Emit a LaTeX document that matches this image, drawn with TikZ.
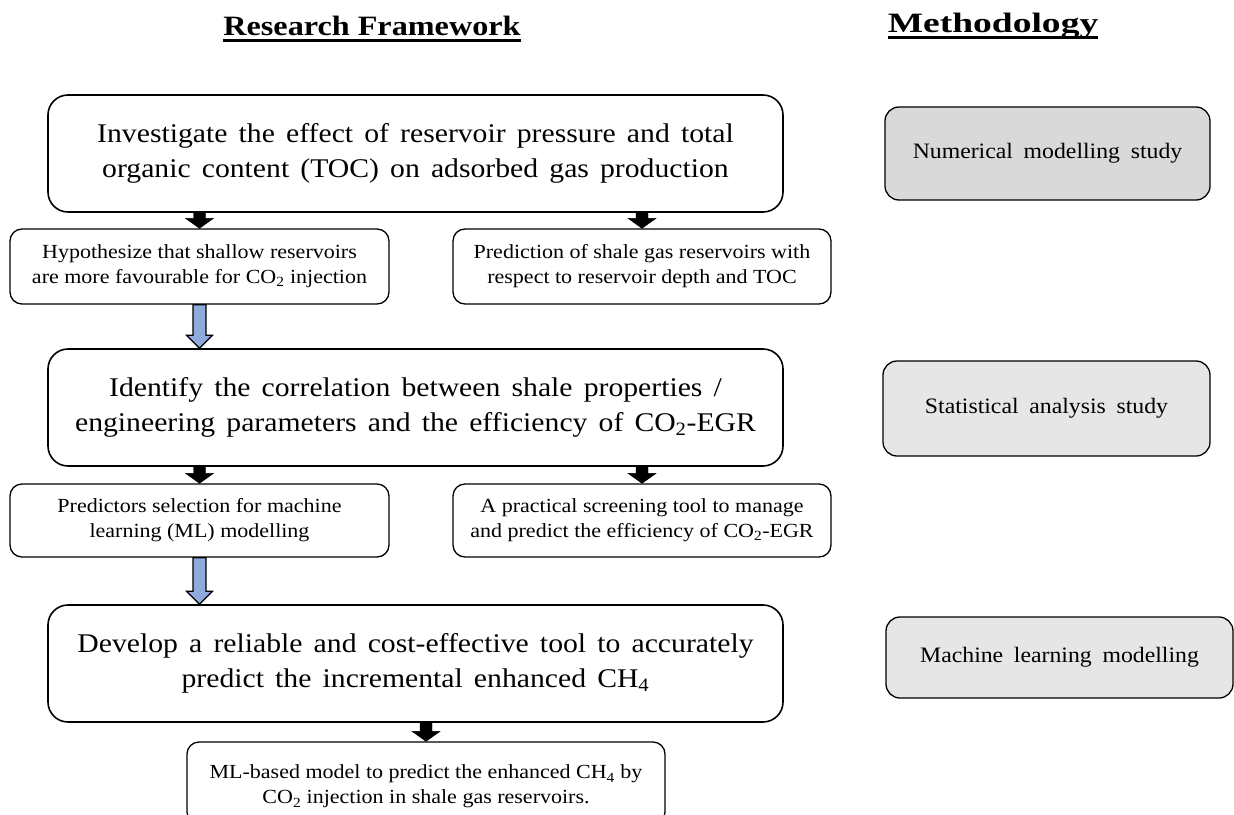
\documentclass[tikz,border=0pt]{standalone}
\usepackage{fontspec}
\setmainfont[FakeStretch=1.1]{Liberation Serif}
\newfontfamily\bigfont[FakeStretch=1.1,WordSpace=1.5]{Liberation Serif}
\newfontfamily\titlefont[FakeStretch=1.15]{Liberation Serif}
\newfontfamily\titlefontB[FakeStretch=1.34]{Liberation Serif}
\newfontfamily\methfont[FakeStretch=1.08,WordSpace=1.8]{Liberation Serif}
\usetikzlibrary{calc}
\definecolor{arrowblue}{HTML}{8FAADC}
\definecolor{greyA}{HTML}{D9D9D9}
\definecolor{greyB}{HTML}{E7E6E6}
\tikzset{
  bigbox/.style={draw, line width=1.6pt, rounded corners=20pt, minimum width=735pt, minimum height=117pt,
    align=center, font=\bigfont\fontsize{27}{35}\selectfont, inner sep=0pt},
  smallbox/.style={draw, line width=1.3pt, rounded corners=12pt, minimum width=379pt, minimum height=75pt,
    align=center, font=\fontsize{20}{25}\selectfont, inner sep=0pt},
  methbox/.style={draw, line width=1.3pt, rounded corners=14pt, align=center,
    font=\methfont\fontsize{22}{26}\selectfont, inner sep=0pt},
  heading/.style={font=\bfseries\fontsize{28}{32}\selectfont, inner sep=0pt},
  underl/.style={line width=2.6pt},
  blackarrow/.style={fill=black},
  bluearrow/.style={fill=arrowblue, draw=black, line width=1.2pt, line join=miter},
}
\newcommand{\fatarrow}[6]{%
  \draw[#1] let \p1=(#2), \p2=(#3) in
    (\x1-#4,\y1) -- (\x1-#4,\y2+#6) -- (\x1-#5,\y2+#6) -- (\x1,\y2)
    -- (\x1+#5,\y2+#6) -- (\x1+#4,\y2+#6) -- (\x1+#4,\y1) -- cycle;}
\begin{document}
\begin{tikzpicture}[x=1pt,y=-1pt]
\useasboundingbox (0,0) rectangle (1234,814);
% headings
\node[heading] (t1) at (372,26) {\titlefont\bfseries Research Framework};
\node[heading] (t2) at (993,26) {\titlefontB\bfseries Methodology};
\draw[underl] ([yshift=-5pt]t1.base west) -- ([yshift=-5pt]t1.base east);
\draw[underl] ([yshift=-5pt]t2.base west) -- ([yshift=-5pt]t2.base east);
% main boxes
\node[bigbox] (b1) at (415.5,153.5) {Investigate the effect of reservoir pressure and total\\organic content (TOC) on adsorbed gas production};
\node[bigbox] (b2) at (415.5,407.5) {Identify the correlation between shale properties /\\engineering parameters and the efficiency of CO\textsubscript{2}-EGR};
\node[bigbox] (b3) at (415.5,663.5) {Develop a reliable and cost-effective tool to accurately\\predict the incremental enhanced CH\textsubscript{4}};
% small boxes
\node[smallbox] (h1) at (199.5,266.5) {Hypothesize that shallow reservoirs\\are more favourable for CO\textsubscript{2} injection};
\node[smallbox, minimum width=378pt] (p1) at (642,266.5) {Prediction of shale gas reservoirs with\\respect to reservoir depth and TOC};
\node[smallbox, minimum height=73pt] (h2) at (199.5,520.5) {Predictors selection for machine\\learning (ML) modelling};
\node[smallbox, minimum width=378pt, minimum height=73pt] (p2) at (642,520.5) {A practical screening tool to manage\\and predict the efficiency of CO\textsubscript{2}-EGR};
\node[smallbox, minimum width=478pt, minimum height=82pt, text depth=0pt] (m) at (426,783) {\raisebox{9pt}{\parbox{478pt}{\centering ML-based model to predict the enhanced CH\textsubscript{4} by\\CO\textsubscript{2} injection in shale gas reservoirs.}}};
% methodology boxes
\node[methbox, fill=greyA, minimum width=325pt, minimum height=93pt] (n1) at (1047.5,153.5) {Numerical modelling study};
\node[methbox, fill=greyB, minimum width=327pt, minimum height=95pt] (n2) at (1046.5,408.5) {Statistical analysis study};
\node[methbox, fill=greyB, minimum width=347pt, minimum height=81pt] (n3) at (1059.5,657.5) {Machine learning modelling};
% arrows
\fatarrow{blackarrow}{h1.north |- b1.south}{h1.north}{6pt}{14pt}{10pt}
\fatarrow{blackarrow}{p1.north |- b1.south}{p1.north}{6pt}{14pt}{10pt}
\fatarrow{blackarrow}{h2.north |- b2.south}{h2.north}{6pt}{14pt}{10pt}
\fatarrow{blackarrow}{p2.north |- b2.south}{p2.north}{6pt}{14pt}{10pt}
\fatarrow{blackarrow}{m.north |- b3.south}{m.north}{6pt}{14pt}{10pt}
\fatarrow{bluearrow}{h1.south}{h1.south |- b2.north}{6.5pt}{13pt}{13pt}
\fatarrow{bluearrow}{h2.south}{h2.south |- b3.north}{6.5pt}{13pt}{13pt}
\end{tikzpicture}
\end{document}
